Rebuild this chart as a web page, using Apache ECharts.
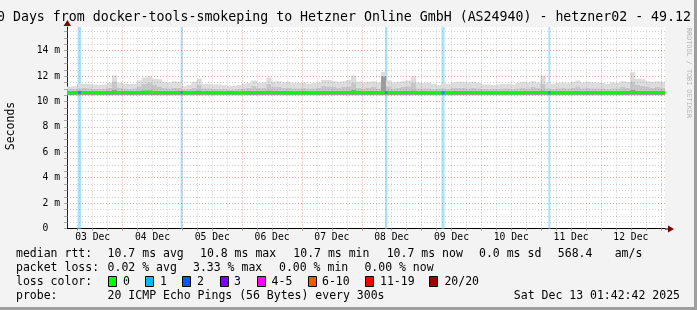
<!DOCTYPE html>
<html><head><meta charset="utf-8">
<script src="https://cdn.jsdelivr.net/npm/echarts@6/dist/echarts.min.js"></script>
<style>html,body{margin:0;padding:0;background:#f3f3f3;overflow:hidden}#c{width:697px;height:310px}</style>
</head><body><div id="c"></div>
<script>
// time axis in hours after 03 Dec 00:00
const T0 = 1.7;
const T1 = 241.7;
const STEP = 2;
const dayLabels = ['03 Dec','04 Dec','05 Dec','06 Dec','07 Dec','08 Dec','09 Dec','10 Dec','11 Dec','12 Dec'];
const dayNoons = [12,36,60,84,108,132,156,180,204,228];
const midnights = [24,48,72,96,120,144,168,192,216,240];
const sixHourTicks = [6,12,18,24,30,36,42,48,54,60,66,72,78,84,90,96,102,108,114,120,126,132,138,144,150,156,162,168,174,180,186,192,198,204,210,216,222,228,234,240];
const yLabelVals = [0,2,4,6,8,10,12,14];
const yTickVals = [0,0.5,1,1.5,2,2.5,3,3.5,4,4.5,5,5.5,6,6.5,7,7.5,8,8.5,9,9.5,10,10.5,11,11.5,12,12.5,13,13.5,14,14.5,15,15.5];

// smoke (ms): lower bound, dark band top, mid band top, light top; median
const smokeLow = 10.5;
const smokeTop = [11.18,11.2,11.4,11.4,11.38,11.35,11.3,11.35,11.45,12.05,
11.45,11.4,11.38,11.4,11.65,11.9,12.0,11.8,11.75,11.55,
11.5,11.6,11.55,11.2,11.3,11.55,11.8,11.4,11.4,11.35,
11.35,11.3,11.25,11.25,11.3,11.4,11.45,11.65,11.45,11.5,
11.9,11.55,11.6,11.5,11.55,11.45,11.45,11.5,11.4,11.45,
11.5,11.7,11.7,11.6,11.55,11.6,11.7,12.05,11.55,11.5,
11.55,11.6,11.5,12.35,11.65,11.5,11.55,11.6,11.65,12.0,
11.5,11.45,11.45,11.4,11.3,11.45,11.4,11.5,11.55,11.55,
11.5,11.55,11.45,11.35,11.35,11.3,11.35,11.4,11.4,11.35,
11.45,11.55,11.5,11.6,11.5,12.05,11.45,11.4,11.45,11.5,
11.45,11.55,11.65,11.5,11.55,11.5,11.45,11.45,11.4,11.5,
11.45,11.6,11.55,12.3,11.8,11.75,11.6,11.55,11.6,11.55];
const smokeMid = [10.98,11.0,11.05,11.1,11.05,11.0,11.0,11.02,11.1,11.6,
11.1,11.05,11.0,11.05,11.2,11.4,11.45,11.3,11.2,11.1,
11.05,11.1,11.1,10.95,11.0,11.1,11.3,11.05,11.05,11.0,
11.0,10.98,10.95,10.97,11.0,11.05,11.1,11.25,11.1,11.1,
11.4,11.15,11.15,11.1,11.1,11.05,11.05,11.1,11.05,11.05,
11.1,11.25,11.2,11.15,11.1,11.15,11.2,11.5,11.1,11.05,
11.1,11.15,11.05,12.05,11.2,11.05,11.1,11.15,11.2,11.45,
11.05,11.05,11.05,11.0,10.98,11.05,11.0,11.1,11.1,11.1,
11.05,11.1,11.05,11.0,11.0,10.98,11.0,11.05,11.05,11.0,
11.05,11.1,11.05,11.15,11.1,11.4,11.05,11.0,11.05,11.1,
11.05,11.1,11.2,11.05,11.1,11.05,11.05,11.05,11.0,11.05,
11.05,11.15,11.1,11.6,11.3,11.25,11.15,11.1,11.15,11.1];
const smokeDark = [10.84,10.85,10.86,10.87,10.85,10.84,10.85,10.85,10.87,10.9,
10.86,10.85,10.84,10.85,10.87,10.88,10.88,10.87,10.86,10.85,
10.85,10.86,10.86,10.83,10.84,10.86,10.88,10.85,10.85,10.84,
10.84,10.84,10.83,10.84,10.84,10.85,10.86,10.87,10.86,10.86,
10.88,10.86,10.86,10.85,10.86,10.85,10.85,10.86,10.85,10.85,
10.86,10.87,10.87,10.86,10.86,10.86,10.87,10.9,10.86,10.85,
10.86,10.86,10.85,12.0,10.87,10.85,10.86,10.86,10.87,10.88,
10.85,10.85,10.85,10.84,10.84,10.85,10.84,10.86,10.86,10.86,
10.85,10.86,10.85,10.84,10.84,10.84,10.84,10.85,10.85,10.84,
10.85,10.86,10.85,10.86,10.86,10.88,10.85,10.84,10.85,10.86,
10.85,10.86,10.87,10.85,10.86,10.85,10.85,10.85,10.84,10.85,
10.85,10.86,10.86,10.9,10.87,10.87,10.86,10.86,10.86,10.86];
const median = [10.7,10.7,10.72,10.72,10.71,10.7,10.7,10.71,10.72,10.72,
10.71,10.71,10.7,10.71,10.72,10.73,10.73,10.72,10.71,10.71,
10.7,10.71,10.71,10.69,10.7,10.71,10.72,10.71,10.7,10.7,
10.7,10.69,10.69,10.7,10.7,10.7,10.71,10.72,10.71,10.71,
10.72,10.71,10.71,10.7,10.71,10.7,10.7,10.71,10.7,10.7,
10.71,10.72,10.72,10.71,10.71,10.71,10.72,10.73,10.71,10.7,
10.71,10.71,10.7,10.72,10.72,10.7,10.71,10.71,10.72,10.72,
10.7,10.7,10.7,10.7,10.69,10.7,10.7,10.71,10.72,10.71,
10.71,10.71,10.7,10.7,10.7,10.69,10.7,10.7,10.7,10.7,
10.7,10.71,10.71,10.71,10.71,10.72,10.7,10.7,10.7,10.71,
10.7,10.71,10.72,10.7,10.71,10.71,10.7,10.7,10.7,10.71,
10.7,10.71,10.71,10.72,10.72,10.72,10.71,10.71,10.71,10.71];

// packet loss intervals (hours)
const lossStart = [6.1, 47.3, 129.3, 152.0, 194.9];
const lossEnd   = [7.3, 48.1, 130.3, 153.2, 195.7];

const lossColors = ['#00ff00','#00b8ff','#0059ff','#7e00ff','#ff00ff','#ff5500','#ff0000','#a10000'];
const lossNames = ['0','1','2','3','4-5','6-10','11-19','20/20'];

const MONO = 'DejaVu Sans Mono';
const times = smokeTop.map((_, i) => T0 + i * STEP).concat([T1]);
const ext = a => a.concat([a[a.length - 1]]);
// custom series rows: [start, end, low, dark, mid, top]
const smokeRows = smokeTop.map((v, i) => [T0 + i * STEP, Math.min(T0 + (i + 1) * STEP, T1), smokeLow, smokeDark[i], smokeMid[i], v]);
const smokeColors = ['#9c9c9c', '#c6c6c6', '#dcdcdc'];

const chart = echarts.init(document.getElementById('c'), null, {renderer: 'canvas'});
const GRID = {left: 67, right: 32, top: 27, bottom: 81.5};
const minorY = yTickVals.filter(v => v > 0 && yLabelVals.indexOf(v) < 0);
const majorY = yLabelVals.filter(v => v > 0);
const minorX = sixHourTicks.filter(v => midnights.indexOf(v) < 0);
const gridGrey = 'rgba(150,150,150,0.45)';
const gridRed = 'rgba(215,90,90,0.55)';

const lossMedianData = [];
lossStart.forEach((s, i) => {
  const idx = Math.min(Math.floor((s - T0) / STEP), median.length - 1);
  lossMedianData.push([s, median[idx]], [lossEnd[i], median[idx]], [lossEnd[i], null]);
});

chart.setOption({
  backgroundColor: '#f3f3f3',
  animation: false,
  grid: Object.assign({show: true, backgroundColor: '#ffffff', borderWidth: 0}, GRID),
  xAxis: {
    type: 'value', min: T0, max: T1,
    axisLine: {show: true, onZero: false, lineStyle: {color: '#000', width: 1}},
    axisTick: {show: true, customValues: sixHourTicks, length: 2, lineStyle: {color: '#999'}},
    axisLabel: {customValues: dayNoons, formatter: v => dayLabels[dayNoons.indexOf(Math.round(v))],
      fontFamily: MONO, fontSize: 9.7, color: '#000', margin: 4},
    splitLine: {show: false}
  },
  yAxis: {
    type: 'value', min: 0, max: 15.87,
    axisLine: {show: true, lineStyle: {color: '#222', width: 1}},
    axisTick: {show: true, customValues: yTickVals, length: 3, lineStyle: {color: '#aaa'}},
    axisLabel: {customValues: yLabelVals, formatter: v => v === 0 ? '0  ' : v + ' m',
      fontFamily: MONO, fontSize: 9.7, color: '#000', margin: 7},
    splitLine: {show: false}
  },
  series: [
    {type: 'line', data: [[T0, null]], z: 1, silent: true, symbol: 'none',
      markLine: {silent: true, symbol: ['none', 'none'], label: {show: false}, animation: false,
        data: [].concat(
          minorY.map(v => ({yAxis: v, lineStyle: {color: gridGrey, type: [1, 2], width: 1}})),
          minorX.map(v => ({xAxis: v, lineStyle: {color: gridGrey, type: [1, 2], width: 1}})),
          majorY.map(v => ({yAxis: v, lineStyle: {color: gridRed, type: [1, 2], width: 1}})),
          midnights.map(v => ({xAxis: v, lineStyle: {color: gridRed, type: [1, 2], width: 1}}))
        )}},
    {type: 'line', data: [[T0, null]], z: 2, silent: true, symbol: 'none',
      markArea: {silent: true, itemStyle: {color: '#a6e2f8', opacity: 1},
        data: lossStart.map((s, i) => [{xAxis: s}, {xAxis: lossEnd[i]}])}},
    {name: 'smoke', type: 'custom', z: 3, silent: true, clip: true, data: smokeRows,
      encode: {x: [0, 1], y: [2, 5]},
      renderItem: function (params, api) {
        const t0 = api.value(0), t1 = api.value(1);
        const lv = [api.value(2), api.value(3), api.value(4), api.value(5)];
        const children = [];
        for (let k = 0; k < 3; k++) {
          const a = api.coord([t0, lv[k]]), b = api.coord([t1, lv[k + 1]]);
          children.push({type: 'rect', shape: {x: a[0], y: b[1], width: b[0] - a[0] + 0.3, height: a[1] - b[1]},
            style: {fill: smokeColors[k]}});
        }
        return {type: 'group', children};
      }},
    {name: 'median', type: 'line', step: 'end', data: times.map((t, i) => [t, ext(median)[i]]),
      symbol: 'none', z: 4, lineStyle: {color: '#00ff00', width: 3}, silent: true},
    {name: 'lossMedian', type: 'line', data: lossMedianData, connectNulls: false,
      symbol: 'none', z: 5, lineStyle: {color: '#1a8cff', width: 3}, silent: true}
  ]
});

// decorations / text
const pEnd = chart.convertToPixel({gridIndex: 0}, [T1, 0]);
const pTop = chart.convertToPixel({gridIndex: 0}, [T0, 15.87]);
const g = [];
const txt = (text, x, y, size, opts) => ({type: 'text', z: 100,
  style: Object.assign({text, x, y, fontFamily: MONO, fontSize: size, fill: '#000', align: 'left', verticalAlign: 'middle'}, opts || {})});
g.push(txt('10 Days from docker-tools-smokeping to Hetzner Online GmbH (AS24940) - hetzner02 - 49.12.', -11, 18, 13.25));
// axis extensions + arrows
g.push({type: 'line', z: 50, shape: {x1: pEnd[0], y1: pEnd[1] + 0.5, x2: pEnd[0] + 4, y2: pEnd[1] + 0.5}, style: {stroke: '#000', lineWidth: 1}});
g.push({type: 'polygon', z: 51, shape: {points: [[pEnd[0] + 3, pEnd[1] - 3], [pEnd[0] + 9, pEnd[1] + 0.5], [pEnd[0] + 3, pEnd[1] + 4]]}, style: {fill: '#7f0000'}});
g.push({type: 'polygon', z: 51, shape: {points: [[pTop[0] - 3.5, pTop[1] - 1], [pTop[0] + 0.5, pTop[1] - 7], [pTop[0] + 4, pTop[1] - 1]]}, style: {fill: '#7f0000'}});
// vertical labels
const sec = txt('Seconds', 11, 126, 11.5, {align: 'center'});
sec.rotation = Math.PI / 2; sec.originX = 11; sec.originY = 126; g.push(sec);
const wm = txt('RRDTOOL / TOBI OETIKER', 689, 73, 6.8, {align: 'center', fill: '#b4b4b4'});
wm.rotation = -Math.PI / 2; wm.originX = 689; wm.originY = 73; g.push(wm);
// legend text
g.push(txt('median rtt:', 16, 254, 11.5));
g.push(txt('10.7 ms avg', 107.6, 254, 11.5));
g.push(txt('10.8 ms max', 200, 254, 11.5));
g.push(txt('10.7 ms min', 293.3, 254, 11.5));
g.push(txt('10.7 ms now', 386.7, 254, 11.5));
g.push(txt('0.0 ms sd', 479, 254, 11.5));
g.push(txt('568.4', 557.8, 254, 11.5));
g.push(txt('am/s', 614.7, 254, 11.5));
g.push(txt('packet loss:', 16, 268, 11.5));
g.push(txt('0.02 % avg', 107.6, 268, 11.5));
g.push(txt('3.33 % max', 193, 268, 11.5));
g.push(txt('0.00 % min', 279, 268, 11.5));
g.push(txt('0.00 % now', 364.4, 268, 11.5));
g.push(txt('loss color:', 16, 282, 11.5));
const boxX = [108, 145.3, 182.2, 219.6, 256.9, 307.6, 365.3, 428.9];
const labX = [123, 160, 197, 234, 271.6, 322, 380, 444.4];
lossNames.forEach((n, i) => {
  g.push({type: 'rect', z: 100, shape: {x: Math.round(boxX[i]) + 0.5, y: 276.5, width: 8, height: 10}, style: {fill: lossColors[i], stroke: '#000', lineWidth: 1}});
  g.push(txt(n, labX[i], 282, 11.5));
});
g.push(txt('probe:', 16, 296, 11.5));
g.push(txt('20 ICMP Echo Pings (56 Bytes) every 300s', 107.6, 296, 11.5));
g.push(txt('Sat Dec 13 01:42:42 2025', 680, 296, 11.5, {align: 'right'}));
// frame shading
g.push({type: 'rect', z: 200, shape: {x: 694, y: 0, width: 3, height: 310}, style: {fill: '#9e9e9e'}});
g.push({type: 'rect', z: 200, shape: {x: 0, y: 307, width: 697, height: 3}, style: {fill: '#9e9e9e'}});
chart.setOption({graphic: g});
</script></body></html>
